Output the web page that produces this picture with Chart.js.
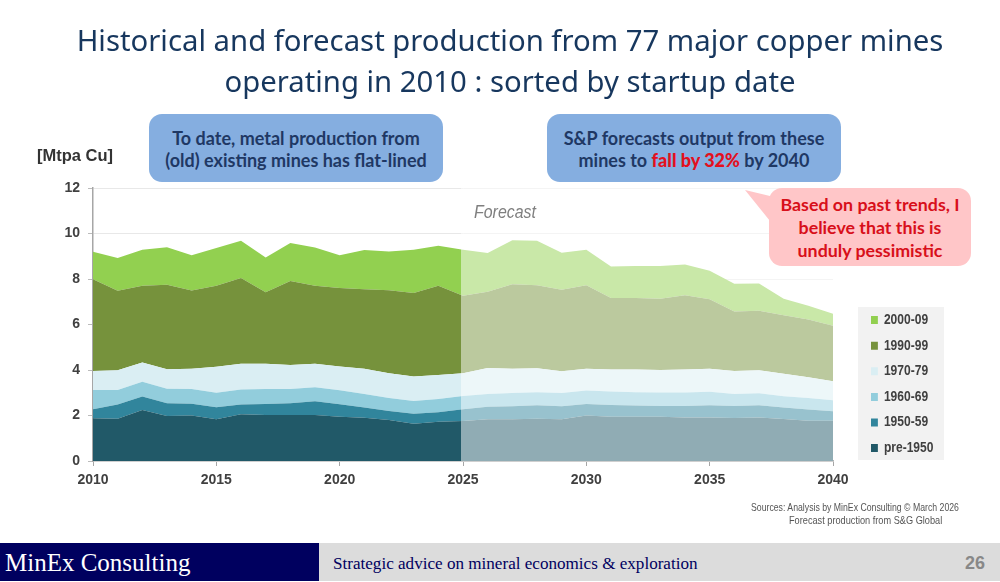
<!DOCTYPE html>
<html>
<head>
<meta charset="utf-8">
<script src="https://cdn.jsdelivr.net/npm/chart.js@4"></script>
<style>
html,body{margin:0;padding:0;background:#fff;width:1000px;height:582px;overflow:hidden}
#wrap{position:relative;width:1000px;height:582px}
canvas{position:absolute;left:0;top:0}
.t{position:absolute;white-space:nowrap}
.sq{transform-origin:left center}
.title{left:10px;width:1000px;text-align:center;font:29.3px/41px "Noto Sans",sans-serif;color:#17375e}
.call{position:absolute;border-radius:13px;text-align:center;font:bold 18px/22.5px Lato,sans-serif;color:#1f3864;background:#85aee0;box-sizing:border-box;display:flex;align-items:center;justify-content:center;padding-top:2px}
.call b{color:#e3101e}
#pink{position:absolute;left:769px;top:188px;width:202px;height:78px;background:#ffc6c8;border-radius:13px;color:#d80f1a;font:bold 17.8px/23px Lato,sans-serif;text-align:center;padding-top:5px;box-sizing:border-box}
</style>
</head>
<body>
<div id="wrap">
<canvas id="c" width="1000" height="582" style="width:1000px;height:582px"></canvas>
<div class="t title" style="top:20px">Historical and forecast production from 77 major copper mines</div>
<div class="t title" style="top:61px">operating in 2010 : sorted by startup date</div>
<div class="call" style="left:149px;top:114px;width:294px;height:68px"><span>To date, metal production from<br>(old) existing mines has flat-lined</span></div>
<div class="call" style="left:547px;top:114px;width:294px;height:68px"><span>S&amp;P forecasts output from these<br>mines to <b>fall by 32%</b> by 2040</span></div>
<svg style="position:absolute;left:740px;top:185px" width="40" height="45"><polygon points="5,5 30,11 30,36" fill="#ffc6c8"/></svg>
<div id="pink">Based on past trends, I<br>believe that this is<br>unduly pessimistic</div>
<div class="t" style="left:37px;top:146px;font:bold 16.5px/18px 'Liberation Sans',sans-serif;color:#333">[Mtpa Cu]</div>
<div class="t sq" style="left:474px;top:201px;font:italic 18px/22px 'Liberation Sans',sans-serif;color:#7f7f7f;transform:scaleX(.885)">Forecast</div>
<div class="t sq" style="left:751px;top:501px;font:10.5px/13px 'Liberation Sans',sans-serif;color:#555;transform:scaleX(.83)">Sources: Analysis by MinEx Consulting © March 2026</div>
<div class="t sq" style="left:789px;top:514px;font:10.5px/13px 'Liberation Sans',sans-serif;color:#555;transform:scaleX(.875)">Forecast production from S&amp;G Global</div>
<div style="position:absolute;left:0;top:543px;width:319px;height:38px;background:#00005f"></div>
<div style="position:absolute;left:319px;top:543px;width:681px;height:38px;background:#dcdcdc"></div>
<div class="t" style="left:5px;top:548px;font:25px/30px 'Liberation Serif',serif;color:#fff">MinEx Consulting</div>
<div class="t" style="left:333px;top:554px;font:17.1px/20px 'Liberation Serif',serif;color:#00005f">Strategic advice on mineral economics &amp; exploration</div>
<div class="t" style="left:965px;top:552px;font:bold 18px/22px 'Liberation Sans',sans-serif;color:#888">26</div>
</div>
<script>
const years = [2010,2011,2012,2013,2014,2015,2016,2017,2018,2019,2020,2021,2022,2023,2024,2025,2026,2027,2028,2029,2030,2031,2032,2033,2034,2035,2036,2037,2038,2039,2040];
const pre1950 = [1.88,1.86,2.24,1.98,2.00,1.83,2.05,2.02,2.02,2.02,1.95,1.90,1.80,1.64,1.73,1.76,1.83,1.83,1.86,1.83,2.00,1.94,1.94,1.94,1.91,1.91,1.89,1.91,1.85,1.77,1.77];
const d1950s = [.39,.62,.59,.56,.52,.53,.43,.49,.52,.61,.54,.45,.40,.44,.41,.51,.55,.58,.59,.58,.51,.52,.50,.48,.51,.54,.53,.54,.50,.49,.42];
const d1960s = [.85,.64,.65,.64,.65,.64,.66,.66,.63,.61,.62,.60,.57,.56,.59,.59,.57,.58,.57,.58,.59,.59,.58,.59,.59,.59,.53,.53,.50,.51,.48];
const d1970s = [.84,.87,.85,.85,.89,1.14,1.14,1.10,1.05,1.03,1.04,1.10,1.09,1.07,1.05,1.00,1.14,1.07,1.06,.96,.95,.97,1.00,.99,1.01,1.02,1.01,1.01,.98,.91,.84];
const d1990s = [4.03,3.49,3.37,3.72,3.44,3.56,3.76,3.15,3.69,3.43,3.45,3.50,3.65,3.68,3.92,3.40,3.35,3.71,3.64,3.58,3.68,3.14,3.14,3.13,3.27,3.05,2.61,2.61,2.58,2.54,2.43];
const d2000s = [1.21,1.44,1.59,1.65,1.54,1.66,1.64,1.53,1.67,1.69,1.44,1.72,1.70,1.90,1.76,2.03,1.70,1.93,1.96,1.62,1.56,1.39,1.41,1.44,1.35,1.25,1.22,1.20,.72,.60,.53];
const seriesNames = ['pre-1950','1950-59','1960-69','1970-79','1990-99','2000-09'];
const seriesValues = [pre1950,d1950s,d1960s,d1970s,d1990s,d2000s];
const seriesColors = ['#215968','#31859c','#92cddc','#daeef3','#76923c','#92d050'];
const forecastStart = 2025;
const forecastEnd = 2040;

const overlay = {
  id:'forecastWash',
  afterLayout(chart){
    const l = chart.legend, w = l.width;
    l.left = 859.4; l.right = l.left + w; l.top = 301.5; l.bottom = 500;
    if(!l._sq){
      l._sq = true;
      const d = l.draw, X = 871;
      l.draw = function(a){
        const c = chart.ctx;
        c.save(); c.translate(X,0); c.scale(.86,1); c.translate(-X,0);
        d.call(this,a);
        c.restore();
      };
    }
  },
  beforeDraw(chart){
    const c = chart.ctx;
    c.save(); c.fillStyle='#f2f2f2'; c.fillRect(858,307,86,153); c.restore();
  },
  afterDatasetsDraw(chart){
    const {ctx,chartArea:a,scales:{x}} = chart;
    const s = x.getPixelForValue(forecastStart)-2, e = x.getPixelForValue(forecastEnd);
    ctx.save(); ctx.fillStyle='rgba(255,255,255,0.5)';
    ctx.fillRect(s,a.top,e-s,a.bottom-a.top); ctx.restore();
  }
};
const tickFont = {family:'"Liberation Sans",sans-serif',size:14,weight:'bold'};
const chart = new Chart(document.getElementById('c'),{
  type:'line',
  data:{datasets:seriesNames.map((n,i)=>({
    label:n,
    data:years.map((y,k)=>({x:y,y:seriesValues[i][k]})),
    backgroundColor:seriesColors[i],
    borderWidth:0,pointRadius:0,tension:0,
    fill:i===0?'origin':'-1'
  }))},
  options:{
    responsive:false,animation:false,
    layout:{padding:{left:0,top:188,bottom:0,right:70}},
    plugins:{
      tooltip:{enabled:false},
      legend:{
        position:'right',reverse:true,align:'start',
        labels:{boxWidth:8,boxHeight:8,padding:11.6,color:'#404040',
          font:{family:'"Liberation Sans",sans-serif',size:14,weight:'bold'}}
      }
    },
    scales:{
      x:{type:'linear',min:2010,max:2040,
        ticks:{stepSize:5,color:'#404040',font:tickFont,maxRotation:0,padding:6,callback:v=>String(v)},
        grid:{display:true,drawOnChartArea:false,drawTicks:true,tickLength:5,tickColor:'#a6a6a6'},
        border:{color:'#b5b5b5',width:1.5},
        afterFit(s){s.height=121;}
      },
      y:{stacked:true,min:0,max:12,
        ticks:{stepSize:2,color:'#404040',font:tickFont,padding:8},
        grid:{color:'#e8e8e8',lineWidth:1,tickLength:5,tickColor:'#bbbbbb'},
        border:{color:'#a6a6a6',width:1.5},
        afterFit(s){s.width=93;}
      }
    }
  },
  plugins:[overlay]
});
const gap = chart.chartArea.right-833;
chart.options.layout.padding.right += gap;
chart.update('none');
</script>
</body>
</html>
